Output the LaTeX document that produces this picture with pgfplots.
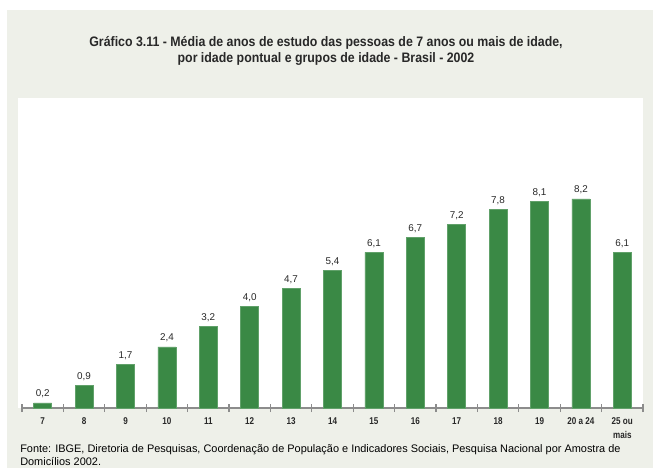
\documentclass[border=0pt]{standalone}
\usepackage{fontspec}
\setmainfont{Liberation Sans}
\newfontfamily\narrow[FakeStretch=0.9]{Liberation Sans}
\newfontfamily\narrowb[FakeStretch=0.82]{Liberation Sans}
\usepackage{pgfplots}
\pgfplotsset{compat=1.18}
\definecolor{pale}{RGB}{238,240,233}
\definecolor{bargreen}{RGB}{58,137,69}
\definecolor{axgray}{RGB}{140,140,140}
\definecolor{txt}{RGB}{40,40,40}
\begin{document}
\begin{tikzpicture}[x=0.75pt,y=0.75pt]
\fill[white] (0,0) rectangle (653,468);
\fill[pale] (7,0) rectangle (653,458);
\fill[white] (18,60) rectangle (643,370);
\node[align=center,font=\narrow\bfseries\fontsize{10.3}{11.4}\selectfont,text=txt] at (326,417)
 {Gráfico 3.11 - Média de anos de estudo das pessoas de 7 anos ou mais de idade,\\
  por idade pontual e grupos de idade - Brasil - 2002};
\node[anchor=north west,align=left,font=\fontsize{8.2}{9.8}\selectfont,text=black,inner sep=0pt] at (20,24)
 {Fonte: IBGE, Diretoria de Pesquisas, Coordenação de População e Indicadores Sociais, Pesquisa Nacional por Amostra de\\
  Domicílios 2002.};
\begin{axis}[
  at={(16.5pt,45pt)}, anchor=south west,
  scale only axis, width=465.75pt, height=232.5pt,
  xmin=-0.5, xmax=14.5, ymin=0, ymax=12.16,
  axis x line*=bottom, axis y line=none,
  x axis line style={axgray, line width=1.3pt, -},
  xtick={0,...,14},
  xticklabels={7,8,9,10,11,12,13,14,15,16,17,18,19,20 a 24,{25 ou\\mais}},
  major tick length=0pt,
  extra x ticks={-0.5,0.5,...,14.5},
  extra x tick labels={},
  extra x tick style={major tick length=6pt, tick align=center, tick style={axgray,line width=0.8pt}},
  xticklabel style={font=\narrowb\bfseries\fontsize{7.4}{10.5}\selectfont, text=txt, align=center, yshift=-4pt},
  ybar, bar width=13.5pt,
  clip=false,
  nodes near coords,
  nodes near coords style={font=\fontsize{7.4}{8}\selectfont, text=txt, /pgf/number format/.cd, fixed, fixed zerofill, precision=1, use comma, assume math mode=true},
  /pgf/number format/assume math mode=true,
]
\addplot[fill=bargreen, draw=bargreen!80!white] coordinates {
(0,0.2) (1,0.9) (2,1.7) (3,2.4) (4,3.2) (5,4.0) (6,4.7) (7,5.4) (8,6.1) (9,6.7) (10,7.2) (11,7.8) (12,8.1) (13,8.2) (14,6.1)};
\end{axis}
\end{tikzpicture}
\end{document}
